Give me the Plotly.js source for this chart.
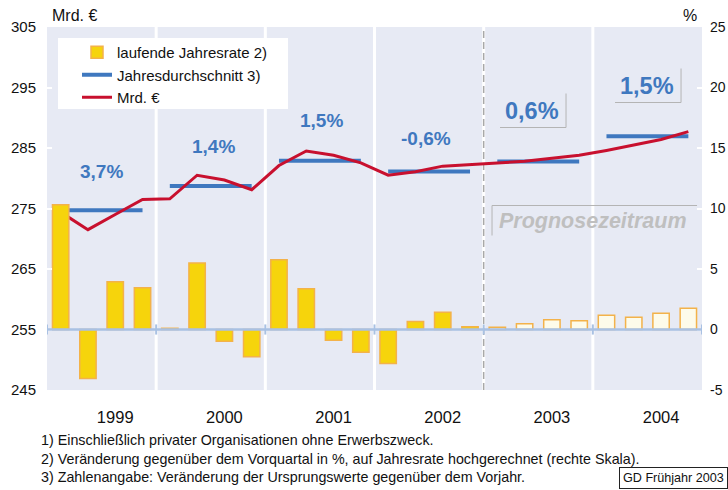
<!DOCTYPE html>
<html><head><meta charset="utf-8">
<script src="https://cdn.plot.ly/plotly-3.0.1.min.js"></script>
<style>body{margin:0;background:#fff}#c{width:728px;height:490px}</style>
</head><body><div id="c"></div>
<script>
// ---- data ----
const years = ['1999','2000','2001','2002','2003','2004'];
const quarters = [0,1,2,3,4,5,6,7,8,9,10,11,12,13,14,15,16,17,18,19,20,21,22,23];
// laufende Jahresrate (%), right axis
const rateHist = [10.3,-4.05,3.94,3.45, 0.1,5.5,-0.97,-2.26, 5.76,3.36,-0.88,-1.87, -2.8,0.66,1.43,0.22];
const rateProg = [0.19,0.47,0.8,0.72, 1.18,1.02,1.35,1.76];
// Mrd. € (left axis)
const mrd = [274.4,271.5,274.0,276.5, 276.6,280.5,279.7,278.1, 282.1,284.5,283.8,282.55,
             280.5,281.07,282.0,282.3, 282.55,282.8,283.3,283.8, 284.6,285.45,286.4,287.7];
// Jahresdurchschnitt (Mrd. €)
const yearAvg = [274.7,278.7,282.9,281.1,282.77,286.95];
const yearPct = ['3,7%','1,4%','1,5%','-0,6%','0,6%','1,5%'];
const leftTicks = [245,255,265,275,285,295,305];
const rightTicks = [-5,0,5,10,15,20,25];
const rightTickText = ['-5','0','5','10','15','20','25'];

const FONT = 'Arial, "Liberation Sans", sans-serif';
const BLUE = '#3f78bf', RED = '#c8102e';

const qHist = quarters.slice(0,16), qProg = quarters.slice(16);
const traces = [
  {type:'bar', x:qHist, y:rateHist, yaxis:'y2', name:'laufende Jahresrate 2)', width:0.6,
   marker:{color:'#f6d40c', line:{color:'#f3b24a', width:1.5}}},
  {type:'bar', x:qProg, y:rateProg, yaxis:'y2', showlegend:false, width:0.6,
   marker:{color:'#fdfbea', line:{color:'#f3b24a', width:1.5}}}
];
years.forEach((y,i)=>{
  traces.push({type:'scatter', mode:'lines', x:[4*i, 4*i+3], y:[yearAvg[i], yearAvg[i]],
    line:{color:BLUE, width:4}, name:'Jahresdurchschnitt 3)', showlegend:i===0});
});
traces.push({type:'scatter', mode:'lines', x:quarters, y:mrd, name:'Mrd. €',
  line:{color:RED, width:3}});

const X = px => (px-47)/27.29 - 0.5;
const YL = py => 255 + (330-py)/6.05;

const shapes = [];
[3.5,7.5,11.5,19.5].forEach(v=>shapes.push({type:'line', layer:'below', xref:'x', yref:'paper',
  x0:v, x1:v, y0:0, y1:1, line:{color:'#ffffff', width:3}}));
shapes.push({type:'line', layer:'below', xref:'x', yref:'paper', x0:15.5, x1:15.5, y0:0, y1:1, line:{color:'#ffffff', width:3}});
shapes.push({type:'line', layer:'below', xref:'x', yref:'paper', x0:15.5, x1:15.5, y0:0, y1:1, line:{color:'#a8a8a8', width:1.5, dash:'7px,4px'}});
// zero line with ticks
shapes.push({type:'line', layer:'above', xref:'x', yref:'y2', x0:-0.5, x1:23.5, y0:0, y1:0, line:{color:'#a9c1e3', width:2.5}});
[-0.5,3.5,7.5,11.5,15.5,19.5,23.5].forEach(v=>shapes.push({type:'line', layer:'above', xref:'x', yref:'y2',
  x0:v, x1:v, y0:-0.42, y1:0.42, line:{color:'#a9c1e3', width:2}}));
// L-frames
shapes.push({type:'path', layer:'above', xref:'x', yref:'y', path:`M${X(500)},${YL(128)} L${X(566)},${YL(128)} L${X(566)},${YL(94)}`, line:{color:'#b4b4b4', width:1}});
shapes.push({type:'path', layer:'above', xref:'x', yref:'y', path:`M${X(615)},${YL(103)} L${X(681)},${YL(103)} L${X(681)},${YL(69)}`, line:{color:'#b4b4b4', width:1}});
shapes.push({type:'path', layer:'above', xref:'x', yref:'y', path:`M${X(492)},${YL(236)} L${X(492)},${YL(206)} L${X(697)},${YL(206)}`, line:{color:'#b4b4b4', width:1}});
// legend box
shapes.push({type:'rect', layer:'above', xref:'paper', yref:'paper', x0:(58-47)/655, x1:(288-47)/655, y0:(390-109)/363, y1:(390-38)/363, fillcolor:'#ffffff', line:{width:0}});

const pctPos = [[101,171.7],[213,147],[321,120.7],[426,139],[532,111.7],[647,86]];
const pctSize = [19,19,19,19,23.5,23.5];
const annotations = pctPos.map((p,i)=>({xref:'x', yref:'y', x:X(p[0]), y:YL(p[1]), text:'<b>'+yearPct[i]+'</b>',
  showarrow:false, font:{family:FONT, size:pctSize[i], color:BLUE}}));
annotations.push({xref:'x', yref:'y', x:X(593), y:YL(221), text:'<b><i>Prognosezeitraum</i></b>', showarrow:false,
  font:{family:FONT, size:21.5, color:'#bfbfbf'}});
annotations.push({xref:'paper', yref:'paper', x:(50-47)/655, y:(390-15)/363, xanchor:'left', yanchor:'middle', text:'Mrd. €', showarrow:false, font:{family:FONT, size:16, color:'#111'}});
annotations.push({xref:'paper', yref:'paper', x:(690-47)/655, y:(390-15)/363, xanchor:'center', yanchor:'middle', text:'%', showarrow:false, font:{family:FONT, size:16, color:'#111'}});
const notes = ['1) Einschließlich privater Organisationen ohne Erwerbszweck.',
  '2) Veränderung gegenüber dem Vorquartal in %, auf Jahresrate hochgerechnet (rechte Skala).',
  '3) Zahlenangabe: Veränderung der Ursprungswerte gegenüber dem Vorjahr.'];
[440,459,477].forEach((py,i)=>annotations.push({xref:'paper', yref:'paper', x:(39-47)/655, y:(390-py)/363, xanchor:'left', yanchor:'middle',
  text:notes[i], showarrow:false, font:{family:FONT, size:14.3, color:'#111'}}));
annotations.push({xref:'paper', yref:'paper', x:(619-47)/655, y:(390-467)/363, xanchor:'left', yanchor:'top',
  text:'GD Frühjahr 2003', showarrow:false, bordercolor:'#222', borderwidth:1, borderpad:3, bgcolor:'#fff',
  font:{family:FONT, size:12.6, color:'#111'}});

const layout = {
  width:728, height:490, margin:{l:47, r:26, t:27, b:100},
  paper_bgcolor:'#ffffff', plot_bgcolor:'#e7eaf4',
  font:{family:FONT, size:15, color:'#111'},
  barmode:'overlay', bargap:0,
  xaxis:{range:[-0.5,23.5], tickvals:[2,6,10,14,18,22], ticktext:years, showgrid:false, zeroline:false,
    ticks:'', ticklabelstandoff:15, tickfont:{size:16.5}, fixedrange:true, showline:false},
  yaxis:{range:[245,305], tickvals:leftTicks, showgrid:false, zeroline:false, ticks:'inside', ticklen:5, tickcolor:'#ffffff', tickwidth:2,
    ticklabelstandoff:10, tickfont:{size:15}},
  yaxis2:{range:[-5,25], tickvals:rightTicks, ticktext:rightTickText, overlaying:'y', side:'right', showgrid:false, zeroline:false,
    ticks:'inside', ticklen:5, tickcolor:'#ffffff', tickwidth:2, ticklabelstandoff:7, tickfont:{size:14}},
  legend:{x:(77-47)/655, y:(390-36)/363, xanchor:'left', yanchor:'top', bgcolor:'rgba(0,0,0,0)', font:{size:15, color:'#111'}, traceorder:'normal'},
  shapes, annotations, showlegend:true
};
Plotly.newPlot('c', traces, layout, {displayModeBar:false, staticPlot:true});
</script></body></html>
